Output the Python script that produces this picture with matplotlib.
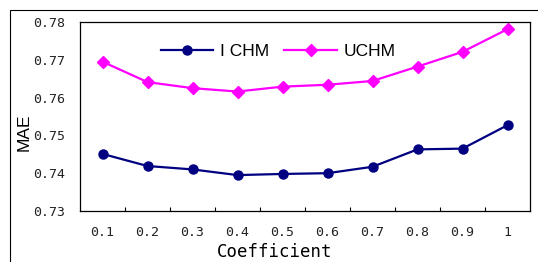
import matplotlib
matplotlib.use("Agg")
import matplotlib.pyplot as plt
from matplotlib.patches import Rectangle

coefficients = ["0.1", "0.2", "0.3", "0.4", "0.5", "0.6", "0.7", "0.8", "0.9", "1"]
ichm = [0.7451, 0.7419, 0.7410, 0.7395, 0.7398, 0.7400, 0.7417, 0.7463, 0.7465, 0.7527]
uchm = [0.7695, 0.7641, 0.7625, 0.7616, 0.7629, 0.7634, 0.7644, 0.7682, 0.7721, 0.7781]
yticks = [0.73, 0.74, 0.75, 0.76, 0.77, 0.78]

MONO = ["DejaVu Sans Mono"]
NARROW = ["Liberation Sans Narrow", "Liberation Sans", "DejaVu Sans"]

fig = plt.figure(figsize=(5.38, 2.62), dpi=100)
W, H = 538, 262

# outer chart frame (Excel style)
fig.patches.append(Rectangle((10 / W, -0.2), 1.2, 1.2 - 10 / H,
                             transform=fig.transFigure, fill=False,
                             edgecolor="black", lw=0.8, clip_on=False))

ax = fig.add_axes([80 / W, 1 - 211 / H, 450 / W, 189 / H])
x = list(range(len(coefficients)))
ax.plot(x, ichm, color="#000080", lw=1.6, marker="o", ms=6.5, label="I CHM")
ax.plot(x, uchm, color="#FF00FF", lw=1.6, marker="D", ms=6, label="UCHM")

ax.set_xlim(-0.5, len(coefficients) - 0.5)
ax.set_ylim(0.73, 0.78)
ax.set_yticks(yticks)
ax.set_yticklabels([f"{v:.2f}" for v in yticks], family=MONO, fontsize=9.5,
                   color="#222222")
ax.tick_params(axis="y", length=0, pad=11)

ax.set_xticks([i + 0.5 for i in x[:-1]])
ax.set_xticklabels([])
ax.tick_params(axis="x", direction="in", length=3, width=0.8)
for i, lab in enumerate(coefficients):
    ax.text(i, -0.115, lab, transform=ax.get_xaxis_transform(), ha="center",
            va="center", family=MONO, fontsize=9.5, color="#222222")

for s in ax.spines.values():
    s.set_linewidth(0.9)

fig.text(275 / W, 1 - 252 / H, "Coefficient", ha="center", va="center",
         family=MONO, fontsize=12.5)
fig.text(24 / W, 1 - 132 / H, "MAE", ha="center", va="center", rotation=90,
         family=NARROW, fontsize=12.5)

ax.legend(loc="upper left", bbox_to_anchor=(0.16, 0.93), ncol=2, frameon=False,
          prop={"family": NARROW, "size": 12.5}, handlelength=3,
          columnspacing=0.9, handletextpad=0.4, borderpad=0)

fig.savefig("out.png", dpi=100)
